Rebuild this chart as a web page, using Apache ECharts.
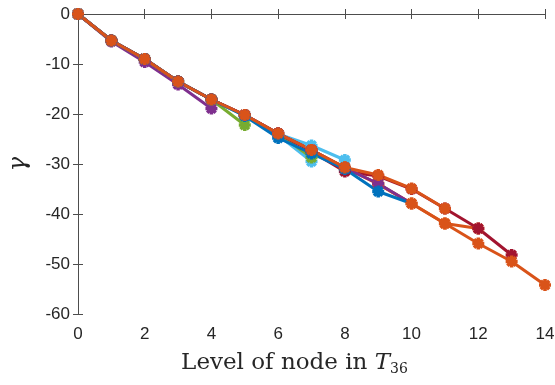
<!DOCTYPE html>
<html>
<head>
<meta charset="utf-8">
<script src="https://cdn.jsdelivr.net/npm/echarts@6/dist/echarts.min.js"></script>
<style>
  html, body { margin: 0; padding: 0; background: #fff; }
  #chart { width: 555px; height: 385px; }
</style>
</head>
<body>
<div id="chart"></div>
<script>
// gamma per level, one array per root-to-leaf path (index = level)
const purpleA    = [0, -5.5, -9.6, -14.1, -18.9]
const greenA     = [0, -5.3, -9.0, -13.5, -17.1, -22.2]
const lightBlueA = [0, -5.3, -9.0, -13.5, -17.1, -20.3, -24.2, -29.5]
const lightBlueB = [0, -5.3, -9.0, -13.5, -17.1, -20.3, -24.0, -26.3, -29.2]
const greenB     = [0, -5.3, -9.0, -13.5, -17.1, -20.2, -23.9, -28.7]
const orangeB    = [0, -5.3, -9.0, -13.5, -17.1, -20.2, -23.9, -27.2, -30.7, -34.0, -37.9, -41.9, -42.9]
const darkRed    = [0, -5.3, -9.0, -13.5, -17.1, -20.2, -23.9, -27.5, -31.5, -32.4, -35.0, -38.9, -42.9, -48.2]
const orangeC    = [0, -5.3, -9.0, -13.5, -17.1, -20.2, -23.9, -27.2, -30.7, -34.0, -37.9, -41.9, -45.9, -49.5, -54.2]
const purpleB    = [0, -5.3, -9.0, -13.5, -17.1, -20.2, -23.9, -27.2, -30.8, -33.9, -37.9]
const blueA      = [0, -5.3, -9.0, -13.5, -17.1, -20.4, -24.8, -27.9, -31.0, -35.5, -37.9]
const orangeA    = [0, -5.3, -9.0, -13.5, -17.1, -20.2, -23.9, -27.2, -30.7, -32.2, -34.9, -38.9]

const xTicks = [0, 14, 2]
const yTicks = [-60, 0, 10]

const C = {
    blue: '#0072BD', orange: '#D95319', purple: '#7E2F8E',
    green: '#77AC30', lightBlue: '#4DBEEE', darkRed: '#A2142F'
}

// drawing order matters: later ones sit on top
const paths = [
    [purpleA, C.purple, false],
    [greenA, C.green, false],
    [lightBlueA, C.lightBlue, false],
    [lightBlueB, C.lightBlue, false],
    [greenB, C.green, false],
    [orangeB, C.orange, false],
    [darkRed, C.darkRed, false],
    [orangeC, C.orange, false],
    [purpleB, C.purple, true],
    [blueA, C.blue, true],
    [orangeA, C.orange, false]
]

const asterisk = 'path://M6,0L6,12M0,6L12,6M1.76,1.76L10.24,10.24M1.76,10.24L10.24,1.76'
const axisColor = '#4d4d4d'
const labelFont = { color: '#262626', fontSize: 17, fontFamily: 'Liberation Sans' }

const chart = echarts.init(document.getElementById('chart'))

const series = paths.map(([vals, color, hideEnd]) => ({
    type: 'line',
    clip: false,
    symbol: asterisk,
    symbolSize: 12,
    symbolKeepAspect: true,
    lineStyle: { color: color, width: 3 },
    itemStyle: { color: color, borderColor: color, borderWidth: 3.5 },
    data: vals.map((v, i) => {
        // branch rejoins an existing node: leave that node's marker as it is
        if (hideEnd && i === vals.length - 1) return { value: [i, v], symbolSize: 0 }
        return [i, v]
    }),
    animation: false
}))

const baseAxis = {
    type: 'value',
    axisLine: { show: true, lineStyle: { color: axisColor, width: 1 } },
    axisTick: { show: true, inside: true, length: 5, lineStyle: { color: axisColor } },
    splitLine: { show: false }
}

chart.setOption({
    backgroundColor: '#fff',
    grid: { left: 78, right: 10, top: 14, bottom: 71, outerBoundsMode: 'none', containLabel: false },
    xAxis: [
        Object.assign({}, baseAxis, {
            min: xTicks[0], max: xTicks[1], interval: xTicks[2],
            position: 'bottom',
            axisLabel: Object.assign({ margin: 12 }, labelFont),
            name: 'Level of node in {t|T}{s|36}',
            nameLocation: 'middle',
            nameGap: 36,
            nameTextStyle: {
                color: '#262626', fontSize: 23, fontFamily: 'DejaVu Serif',
                padding: [0, 34, 0, 0],
                rich: {
                    t: { fontSize: 23, fontStyle: 'italic', fontFamily: 'DejaVu Serif', color: '#262626' },
                    s: { fontSize: 14, fontFamily: 'DejaVu Serif', color: '#262626', padding: [12, 0, 0, 0] }
                }
            }
        }),
        Object.assign({}, baseAxis, {
            min: xTicks[0], max: xTicks[1], interval: xTicks[2],
            position: 'top',
            axisLabel: { show: false }
        })
    ],
    yAxis: [
        Object.assign({}, baseAxis, {
            min: yTicks[0], max: yTicks[1], interval: yTicks[2],
            position: 'left',
            axisLabel: Object.assign({ margin: 8 }, labelFont),
            name: 'γ',
            nameLocation: 'middle',
            nameRotate: 90,
            nameGap: 47,
            nameTextStyle: { color: '#262626', fontSize: 24, fontFamily: 'DejaVu Serif', fontStyle: 'italic' }
        }),
        Object.assign({}, baseAxis, {
            min: yTicks[0], max: yTicks[1], interval: yTicks[2],
            position: 'right',
            axisLabel: { show: false }
        })
    ],
    series: series
})
</script>
</body>
</html>
